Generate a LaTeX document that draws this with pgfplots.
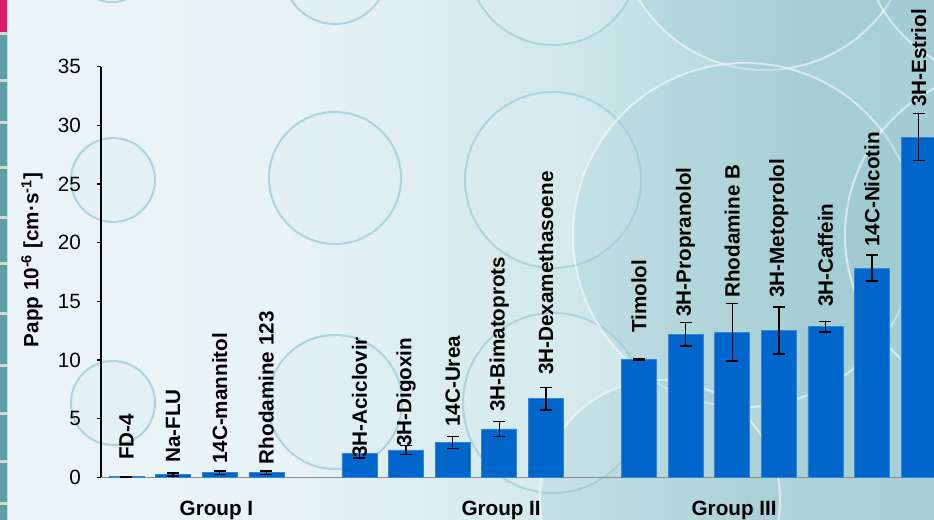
\documentclass[border=0pt]{standalone}
\usepackage{fontspec}
\setmainfont{Liberation Sans}
\usepackage{pgfplots}
\usepackage{pgfplotstable}
\pgfplotsset{compat=1.18}

\definecolor{barblue}{RGB}{0,102,204}
\definecolor{bgA}{HTML}{F0F7F8}
\definecolor{bgB}{HTML}{E8F3F5}
\definecolor{bgC}{HTML}{D2E8EB}
\definecolor{bgD}{HTML}{ABD2D7}
\definecolor{bgE}{HTML}{98C6CD}
\definecolor{circstroke}{HTML}{ADD3DE}
\definecolor{circfill}{HTML}{DDEEF2}
\definecolor{stripteal}{HTML}{5A9FA6}
\definecolor{strippink}{HTML}{D81B6E}
\definecolor{stripgap}{HTML}{D4D8D8}
\definecolor{axisgray}{HTML}{8C8C8C}

\pgfdeclarehorizontalshading{bgshade}{100bp}{color(0bp)=(bgA); color(40bp)=(bgB); color(55bp)=(bgC); color(68bp)=(bgD); color(100bp)=(bgE)}

\pgfplotstableread[col sep=comma]{
x,y,err,ly,label
0,0.05,0.02,1.47,FD-4
1,0.25,0.12,1.22,Na-FLU
2,0.40,0.15,1.13,14C-mannitol
3,0.40,0.15,1.11,Rhodamine 123
5,2.05,0.40,1.65,3H-Aciclovir
6,2.33,0.40,2.58,3H-Digoxin
7,2.98,0.50,4.29,14C-Urea
8,4.12,0.64,5.57,3H-Bimatoprots
9,6.70,0.95,8.72,3H-Dexamethasoene
11,10.06,0.05,12.30,Timolol
12,12.19,1.00,13.67,3H-Propranolol
13,12.36,2.45,15.29,Rhodamine B
14,12.53,2.00,15.29,3H-Metoprolol
15,12.84,0.45,14.52,3H-Caffein
16,17.84,1.10,19.63,14C-Nicotin
17,29.00,2.00,31.57,3H-Estriol
}\datatable

\newcommand{\chartfont}{\fontsize{15.5}{18}\selectfont}

\begin{document}
\begin{tikzpicture}
\useasboundingbox (0,0) rectangle (700.5pt,390pt);
\shade[shading=bgshade] (0,0) rectangle (700.5pt,390pt);
\begin{scope}[x=0.75pt,y=-0.75pt,yshift=390pt]
  % decorative bubbles
  \foreach \cx/\cy/\r in {113/180/42,113/403/42,335/178/66,335/402/67,553/180/88,553/403/90,553/-40/85,335/-28/52,112/-38/40}{
    \draw[circstroke,line width=1.5pt,fill=circfill,fill opacity=0.45] (\cx,\cy) circle[radius=\r];
  }
  \foreach \cx/\cy/\r in {765/-78/148,745/235/172,1010/-70/150,1010/235/165,660/500/120}{
    \draw[white,line width=1.5pt,draw opacity=0.55,fill=bgE,fill opacity=0.25] (\cx,\cy) circle[radius=\r];
  }
  % left strip
  \fill[stripgap] (0,0) rectangle (8,520);
  \fill[strippink] (0,0) rectangle (7,32);
  \foreach \a/\b in {35/79,82/121,124/166,169/216,219/262,265/312,315/364,367/412,415/460,463/502,505/520}{
    \fill[stripteal] (0,\a) rectangle (7,\b);
  }
\end{scope}
\begin{axis}[
  at={(75.75pt,32pt)}, anchor=south west,
  scale only axis, width=624.75pt, height=307.95pt,
  xmin=-0.547, xmax=17.33, ymin=0, ymax=35,
  axis lines*=left,
  x axis line style={draw=axisgray,line width=1.1pt},
  y axis line style={draw=black,line width=0.9pt},
  clip=false,
  xtick=\empty,
  ytick={0,5,...,35},
  tick align=outside,
  major tick length=3pt,
  ytick style={black,line width=0.9pt},
  yticklabel style={font=\chartfont, xshift=-8.5pt},
  /pgf/number format/assume math mode=true,
  ylabel={\bfseries Papp 10\textsuperscript{-6} [cm·s\textsuperscript{-1}]},
  every axis y label/.style={at={(axis description cs:-0.0828,0.529)}, rotate=90, anchor=center, font=\chartfont},
]
\addplot[ybar, bar width=26.25pt, fill=barblue, draw=barblue!80!white, line width=0.4pt,
  error bars/.cd, y dir=both, y explicit,
  error bar style={black,line width=1.1pt},
  error mark options={black,rotate=90,mark size=4.5pt,line width=1.1pt}]
  table[x=x,y=y,y error=err] {\datatable};
\addplot[draw=none, mark=none, nodes near coords, point meta=explicit symbolic,
  every node near coord/.append style={rotate=90, anchor=west, inner sep=0pt, font=\chartfont\bfseries, black}]
  table[x=x,y=ly,meta=label] {\datatable};
\node[font=\chartfont\bfseries, anchor=base] at (axis cs:1.93,0) [yshift=-29pt] {Group I};
\node[font=\chartfont\bfseries, anchor=base] at (axis cs:8.04,0) [yshift=-29pt] {Group II};
\node[font=\chartfont\bfseries, anchor=base] at (axis cs:13.04,0) [yshift=-29pt] {Group III};
\end{axis}
\end{tikzpicture}
\end{document}
